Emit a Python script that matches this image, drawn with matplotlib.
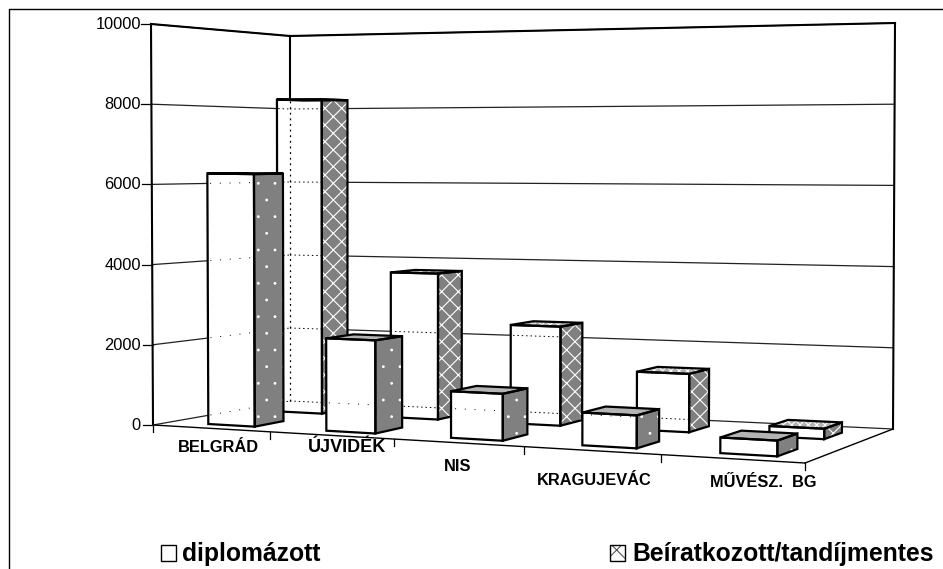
import numpy as np
import matplotlib
matplotlib.use("Agg")
import matplotlib.pyplot as plt
import matplotlib.hatch as mhatch
from matplotlib.patches import Polygon, Rectangle

categories = ["BELGRÁD", "ÚJVIDÉK", "NIS", "KRAGUJEVÁC", "MŰVÉSZ.  BG"]
diplomazott = [6280, 2270, 1120, 770, 360]
beiratkozott = [8200, 3730, 2480, 1430, 250]
y_ticks = [0, 2000, 4000, 6000, 8000, 10000]
series_names = ["diplomázott", "Beíratkozott/tandíjmentes"]

plt.rcParams["font.family"] = ["Liberation Sans", "DejaVu Sans"]
plt.rcParams["hatch.linewidth"] = 0.8
mhatch.SmallFilledCircles.size = 0.05

fig = plt.figure(figsize=(9.43, 5.69), dpi=100)
ax = fig.add_axes([0, 0, 1, 1])
ax.set_xlim(0, 943)
ax.set_ylim(569, 0)
ax.axis("off")

# Page projection of the chart box: floor corners and wall heights
FL, FR, BR, BL = map(np.array, ([153.0, 425.0], [805.0, 463.0], [893.0, 429.0], [290.0, 401.0]))
H_FL, H_FR, H_BR, H_BL = 401.0, 446.0, 406.0, 365.0
NCAT = len(categories)


def P(u, v, z=0.0):
    s = (113.65 * u + 3.35 * u * u) / 652.0
    base = (1 - s) * (1 - v) * FL + s * (1 - v) * FR + s * v * BR + (1 - s) * v * BL
    h = (1 - s) * (1 - v) * H_FL + s * (1 - v) * H_FR + s * v * H_BR + (1 - s) * v * H_BL
    frac = z / max(y_ticks)
    lean = -2 * (1 - s) * (1 - v) + 2 * s
    return (base[0] + lean * frac, base[1] - h * frac)


# walls
for t in y_ticks:
    a, b, c = P(0, 0, t), P(0, 1, t), P(NCAT, 1, t)
    ax.plot(*zip(a, b), color="#222222", lw=0.9, zorder=1)
    ax.plot(*zip(b, c), color="#222222", lw=0.9, zorder=1)
    ax.plot([a[0] - 10, a[0]], [a[1], a[1]], color="k", lw=0.9, zorder=1)
    ax.text(141, a[1] + 0.5, str(t), ha="right", va="center", fontsize=11.8, color="k")
top = max(y_ticks)
for a, b in ((P(0, 0), P(0, 0, top)), (P(0, 1), P(0, 1, top)), (P(NCAT, 1), P(NCAT, 1, top)),
             (P(0, 0, top), P(0, 1, top)), (P(0, 1, top), P(NCAT, 1, top))):
    ax.plot(*zip(a, b), color="k", lw=1.5, zorder=1)
# floor
ax.plot(*zip(P(0, 0), P(NCAT, 0)), color="k", lw=1.0, zorder=1)
ax.plot(*zip(P(NCAT, 0), P(NCAT, 1)), color="k", lw=1.0, zorder=1)
for i in range(NCAT + 1):
    x, y = P(i, 0)
    ax.plot([x, x], [y, y + 7], color="k", lw=0.9, zorder=1)


def wall_lines_through(poly, z, sparse):
    """Walls seen through the open pattern of a bar's front face."""
    dash = (0, (1, 9)) if sparse else (0, (1.5, 3))
    for t in y_ticks:
        for a, c in ((P(0, 0, t), P(0, 1, t)), (P(0, 1, t), P(NCAT, 1, t))):
            ln, = ax.plot(*zip(a, c), color="k", lw=0.7, ls=dash, zorder=z)
            ln.set_clip_path(poly)
    ln, = ax.plot(*zip(P(0, 1), P(0, 1, top)), color="k", lw=0.9, ls=dash, zorder=z)
    ln.set_clip_path(poly)


def box(u0, u1, v0, v1, val, z, hatch_side, hatch_top, sparse):
    front = [P(u0, v0), P(u1, v0), P(u1, v0, val), P(u0, v0, val)]
    side = [P(u1, v0), P(u1, v1), P(u1, v1, val), P(u1, v0, val)]
    roof = [P(u0, v0, val), P(u1, v0, val), P(u1, v1, val), P(u0, v1, val)]
    fp = Polygon(front, fc="white", ec="none", zorder=z)
    ax.add_patch(fp)
    wall_lines_through(fp, z + 0.1, sparse)
    ax.add_patch(Polygon(side, fc="#808080", ec="white", hatch=hatch_side, lw=0, zorder=z))
    ax.add_patch(Polygon(roof, fc="#b4b4b4", ec="white", hatch=hatch_top, lw=0, zorder=z))
    for pts in (front, side, roof):
        ax.add_patch(Polygon(pts, fc="none", ec="k", lw=1.6, zorder=z + 0.2, joinstyle="miter"))


U0, U1 = 0.33, 0.73
V_FRONT = (0.13, 0.35)
V_BACK = (0.645, 0.84)
for i in range(NCAT):
    box(i + U0, i + U1, *V_BACK, beiratkozott[i], 10 + i, "xx", "xxxx", False)
for i in range(NCAT):
    box(i + U0, i + U1, *V_FRONT, diplomazott[i], 20 + i, ".", "", True)

# category labels
label_xy = [(218, 447), (347, 447), (458, 466), (594, 480), (763, 482)]
label_size = [11.8, 13.0, 11.8, 11.8, 11.8]
for name, (x, y), s in zip(categories, label_xy, label_size):
    ax.text(x, y, name, ha="center", va="center", fontsize=s, fontweight="bold", color="k", zorder=40)

# legend
ax.text(182, 554, series_names[0], ha="left", va="center", fontsize=17.8, fontweight="bold", zorder=40)
ax.text(632, 554, series_names[1], ha="left", va="center", fontsize=17.8, fontweight="bold", zorder=40)
ax.add_patch(Rectangle((161, 545), 15, 15.5, fc="white", ec="k", lw=1.0, zorder=40))
ax.add_patch(Rectangle((610, 545), 15, 15.5, fc="white", ec="#555555", lw=0, hatch="x", zorder=40))
ax.add_patch(Rectangle((610, 545), 15, 15.5, fc="none", ec="k", lw=1.0, zorder=41))

# outer frame, cut by the page edges
ax.plot([9, 9, 943], [569, 8.5, 8.5], color="k", lw=1.0, zorder=50)

fig.savefig("out.png", dpi=100)
